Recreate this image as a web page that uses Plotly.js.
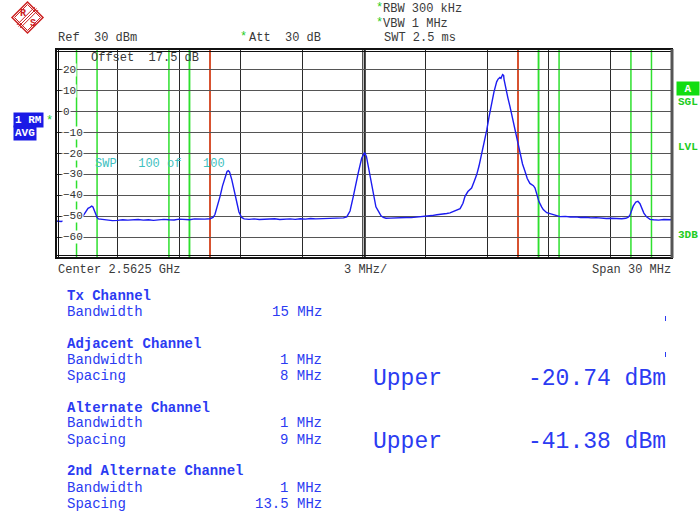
<!DOCTYPE html>
<html>
<head>
<meta charset="utf-8">
<script src="https://cdn.plot.ly/plotly-3.0.1.min.js"></script>
<style>
html,body{margin:0;padding:0;background:#fff;}
#chart{width:700px;height:516px;}
text{white-space:pre;}
</style>
</head>
<body>
<div id="chart"></div>
<script>
// ---------- data ----------
const centerFreqGHz = 2.5625;
const spanMHz = 30;
const refLevelDbm = 30;
const yTickValues = [20, 10, 0, -10, -20, -30, -40, -50, -60];

// frequency offset from center (MHz) and measured level (dBm)
const freqOffsetMHz = [
-15.0,-14.75,-14.5,-14.25,-14.0,-13.85,-13.76,-13.6,-13.5,-13.44,-13.35,-13.26,-13.2,-13.1,-13.0,-12.94,
-12.75,-12.5,-12.25,-12.0,-11.75,-11.5,-11.25,-11.0,-10.75,-10.5,-10.25,-10.0,-9.75,-9.5,-9.25,-9.0,
-8.75,-8.5,-8.25,-8.0,-7.75,-7.5,-7.35,-7.26,-7.13,-7.01,-6.89,-6.77,-6.67,-6.61,-6.55,-6.44,-6.33,
-6.2,-6.09,-5.96,-5.84,-5.6,-5.35,-5.1,-4.85,-4.6,-4.35,-4.1,-3.85,-3.6,-3.35,-3.1,-2.85,-2.6,-2.35,
-2.1,-1.85,-1.6,-1.35,-1.15,-1.0,-0.84,-0.68,-0.52,-0.39,-0.28,-0.11,-0.02,0.03,0.12,0.21,0.34,0.45,
0.58,0.7,0.83,0.94,1.07,1.3,1.55,1.8,2.05,2.3,2.55,2.8,3.05,3.3,3.55,3.8,4.03,4.19,4.33,4.51,4.68,
4.82,4.92,5.06,5.24,5.36,5.49,5.6,5.73,5.85,5.98,6.09,6.22,6.33,6.46,6.53,6.62,6.67,6.75,6.8,6.82,
6.89,7.01,7.11,7.23,7.35,7.48,7.6,7.72,7.84,7.95,8.08,8.25,8.33,8.43,8.52,8.65,8.73,8.9,9.06,9.3,
9.55,9.8,10.05,10.3,10.55,10.8,11.05,11.3,11.55,11.8,12.05,12.3,12.55,12.75,12.87,12.95,13.11,13.24,
13.34,13.44,13.52,13.63,13.76,13.93,14.1,14.35,14.6,14.85,15.0
];
const levelDbm = [
-52.3,-52.5,-52.0,-52.4,-51.9,-52.0,-51.0,-48.6,-47.0,-46.2,-45.8,-45.2,-45.6,-48.4,-50.6,-51.3,
-51.6,-51.8,-52.1,-52.0,-51.7,-51.9,-51.8,-51.6,-51.9,-51.7,-52.0,-51.8,-51.5,-51.7,-51.8,-51.4,
-51.6,-51.7,-51.3,-51.5,-51.4,-51.2,-50.6,-49.2,-45.0,-40.5,-35.5,-31.0,-28.6,-28.2,-28.8,-32.5,-37.5,
-43.6,-48.0,-50.6,-51.3,-51.5,-51.3,-51.6,-51.4,-51.5,-51.2,-51.6,-51.4,-51.3,-51.5,-51.2,-51.4,-51.1,-51.3,
-51.2,-51.4,-51.0,-51.2,-51.0,-50.8,-50.3,-47.5,-40.5,-34.0,-29.3,-22.2,-19.8,-19.5,-21.5,-26.2,-33.5,-40.5,
-45.5,-47.6,-49.8,-50.6,-51.0,-50.9,-50.7,-50.8,-50.6,-50.7,-50.5,-50.3,-50.0,-49.7,-49.3,-49.1,-48.7,-48.4,-47.9,-47.3,-46.4,
-43.8,-40.5,-38.2,-36.5,-33.5,-30.1,-26.0,-20.6,-15.5,-8.7,-2.5,4.8,9.5,14.3,15.6,16.4,16.0,17.8,17.4,15.5,
11.5,6.5,2.4,-3.0,-8.7,-15.0,-20.6,-25.0,-28.5,-32.0,-34.3,-35.4,-36.5,-39.5,-43.0,-45.5,-46.8,-48.3,-48.8,-49.6,
-50.2,-50.1,-50.4,-50.3,-50.6,-50.5,-50.8,-50.7,-51.0,-51.1,-51.0,-51.2,-51.2,-51.0,-50.5,-49.5,-45.2,-43.2,
-42.9,-44.0,-46.0,-48.5,-50.3,-51.5,-51.7,-51.9,-51.6,-51.8,-51.7
];

// channel settings
const channelNames = ['Tx Channel', 'Adjacent Channel', 'Alternate Channel', '2nd Alternate Channel'];
const channelBandwidthMHz = [15, 1, 1, 1];
const channelSpacingMHz = [0, 8, 9, 13.5];
const resultLabels = ['Upper', 'Upper'];
const resultValuesDbm = [-20.74, -41.38];

// ---------- helpers ----------
const L = 56, T = 49, W = 616, H = 209;
const px = x => (x - L) / W;
const py = y => (T + H - y) / H;
const MONO = 'Liberation Mono, Courier New, monospace';
const NB = s => s.replace(/ /g, '\u00a0');
function ann(text, x, y, o) {
  o = o || {};
  const a = {
    xref: 'paper', yref: 'paper', x: px(x), y: py(y), text: NB(text), showarrow: false,
    xanchor: o.anchor || 'left', yanchor: 'middle', borderpad: o.pad === undefined ? 0 : o.pad,
    font: {family: MONO, size: o.size || 12, color: o.color || '#3a3a3a', weight: o.bold ? 'bold' : 'normal'}
  };
  if (o.bg) a.bgcolor = o.bg;
  if (o.width) a.width = o.width;
  if (o.height) a.height = o.height;
  if (o.align) a.align = o.align;
  return a;
}

const annotations = [];
const shapes = [];

// header texts
annotations.push(ann('Ref  ' + refLevelDbm + ' dBm', 57, 37.5));
annotations.push(ann('*', 239, 37, {color: '#22cc22'}));
annotations.push(ann('Att  30 dB', 248, 37.5));
annotations.push(ann('*', 375, 8, {color: '#22cc22'}));
annotations.push(ann('RBW 300 kHz', 382, 8.5));
annotations.push(ann('*', 375, 23, {color: '#22cc22'}));
annotations.push(ann('VBW 1 MHz', 382, 23.5));
annotations.push(ann('SWT 2.5 ms', 383, 37.5));
annotations.push(ann('Offset  17.5 dB', 90, 58));
annotations.push(ann('SWP   100 of   100', 94, 164, {color: '#3fbfbf'}));

// left / right indicators
annotations.push(ann('1 RM', 13, 120.5, {color: '#ffffff', bg: '#1a1ae6', bold: true, size: 11, pad: 1}));
annotations.push(ann('AVG', 13, 132.5, {color: '#ffffff', bg: '#1a1ae6', bold: true, size: 11, pad: 1}));
annotations.push(ann('*', 45, 121, {color: '#22cc22'}));
annotations.push(ann('A', 688, 88, {anchor: 'center', color: '#ffffff', bg: '#11dd11', bold: true, size: 11, width: 22, height: 13, align: 'center'}));
annotations.push(ann('SGL', 677, 102, {color: '#22cc22', bold: true, size: 11}));
annotations.push(ann('LVL', 677, 147, {color: '#22cc22', bold: true, size: 11}));
annotations.push(ann('3DB', 677, 235, {color: '#22cc22', bold: true, size: 11}));

// bottom axis texts
annotations.push(ann('Center ' + centerFreqGHz + ' GHz', 57, 270));
annotations.push(ann((spanMHz / 10) + ' MHz/', 365, 270, {anchor: 'center'}));
annotations.push(ann('Span ' + spanMHz + ' MHz', 672, 270, {anchor: 'right'}));

// y tick labels (inside the frame, on white)
yTickValues.forEach(v => {
  annotations.push({xref: 'paper', yref: 'y', x: px(62), y: v, text: String(v).replace('-', '\u2212'),
    showarrow: false, xanchor: 'left', yanchor: 'middle', bgcolor: '#ffffff', borderpad: 0,
    font: {family: MONO, size: 11, color: '#333'}});
});

// channel table
const BLUE = '#2b3bf2';
const rowY = [[296, 312], [343.5, 359.5, 375.5], [407.5, 423.5, 439.5], [471.5, 487.5, 503.5]];
channelNames.forEach((name, i) => {
  const r = rowY[i];
  annotations.push(ann(name, 66, r[0], {color: BLUE, bold: true, size: 14}));
  annotations.push(ann('Bandwidth', 66, r[1], {color: BLUE, size: 14}));
  annotations.push(ann(channelBandwidthMHz[i] + ' MHz', 323, r[1], {color: BLUE, size: 14, anchor: 'right'}));
  if (i > 0) {
    annotations.push(ann('Spacing', 66, r[2], {color: BLUE, size: 14}));
    annotations.push(ann(channelSpacingMHz[i] + ' MHz', 323, r[2], {color: BLUE, size: 14, anchor: 'right'}));
  }
});
const resY = [378.5, 442];
resultLabels.forEach((lab, i) => {
  annotations.push(ann(lab, 372, resY[i], {color: BLUE, size: 23}));
  annotations.push(ann(resultValuesDbm[i].toFixed(2) + ' dBm', 667, resY[i], {color: BLUE, size: 23, anchor: 'right'}));
});
[[316, 321], [352, 357]].forEach(s => {
  shapes.push({type: 'line', xref: 'paper', yref: 'paper', x0: px(665.5), x1: px(665.5), y0: py(s[0]), y1: py(s[1]), line: {color: BLUE, width: 1}});
});

// channel limit lines (green for adjacent/alternate, red for Tx)
const chanLine = (x, color) => shapes.push({type: 'line', xref: 'x', yref: 'paper', x0: x, x1: x, y0: 0, y1: 1, layer: 'below', line: {color: color, width: 1.5}});
for (let i = 1; i < channelNames.length; i++) {
  [-1, 1].forEach(sgn => {
    chanLine(sgn * (channelSpacingMHz[i] - channelBandwidthMHz[i] / 2), '#2ee02e');
    chanLine(sgn * (channelSpacingMHz[i] + channelBandwidthMHz[i] / 2), '#2ee02e');
  });
}
[-1, 1].forEach(sgn => chanLine(sgn * channelBandwidthMHz[0] / 2, '#ff2020'));

// center double line
[-0.06, 0.06].forEach(x => shapes.push({type: 'line', xref: 'x', yref: 'paper', x0: x, x1: x, y0: 0, y1: 1, layer: 'below', line: {color: '#111', width: 1}}));

// frame
shapes.push({type: 'rect', xref: 'paper', yref: 'paper', x0: 0, x1: 1, y0: 0, y1: 1, line: {color: '#111', width: 2}});
shapes.push({type: 'line', xref: 'paper', yref: 'paper', x0: 0, x1: 1, y0: py(51.5), y1: py(51.5), line: {color: '#111', width: 1}});
shapes.push({type: 'line', xref: 'paper', yref: 'paper', x0: 0, x1: 1, y0: py(255.5), y1: py(255.5), line: {color: '#111', width: 1}});
shapes.push({type: 'line', xref: 'paper', yref: 'paper', x0: px(58.5), x1: px(58.5), y0: 0, y1: 1, line: {color: '#111', width: 1}});
shapes.push({type: 'line', xref: 'paper', yref: 'paper', x0: 1, x1: 1, y0: 0, y1: 1, line: {color: '#555', width: 3}});

// R&S logo
const LOGO = '#cc2222';
const pth = pts => 'M ' + pts.map(p => px(p[0]) + ',' + py(p[1])).join(' L ') + ' Z';
shapes.push({type: 'path', xref: 'paper', yref: 'paper', path: pth([[27.5, 2], [43, 17.5], [27.5, 33], [12, 17.5]]), line: {color: LOGO, width: 1.5}});
shapes.push({type: 'path', xref: 'paper', yref: 'paper', path: pth([[27.5, 4.5], [40.5, 17.5], [27.5, 30.5], [14.5, 17.5]]), line: {color: LOGO, width: 1}});
[-1.6, 0, 1.6].forEach(d => {
  shapes.push({type: 'line', xref: 'paper', yref: 'paper', x0: px(18.5 + d), y0: py(26.5 + d), x1: px(36.5 + d), y1: py(8.5 + d), line: {color: LOGO, width: 1}});
});
annotations.push(ann('R', 22.5, 13, {anchor: 'center', color: LOGO, bold: true, size: 10}));
annotations.push(ann('S', 32.5, 23, {anchor: 'center', color: LOGO, bold: true, size: 10}));

const trace = {
  type: 'scatter', mode: 'lines', x: freqOffsetMHz, y: levelDbm,
  line: {color: '#1c1cf0', width: 1.4}, hoverinfo: 'skip'
};

const layout = {
  width: 700, height: 516,
  margin: {l: L, r: 700 - L - W, t: T, b: 516 - T - H, pad: 0},
  paper_bgcolor: '#ffffff', plot_bgcolor: '#ffffff',
  showlegend: false,
  xaxis: {range: [-spanMHz / 2, spanMHz / 2], tick0: -15, dtick: 3, showgrid: true, gridcolor: '#2a2a2a', gridwidth: 1,
          zeroline: false, showticklabels: false, showline: false, ticks: '', fixedrange: true},
  yaxis: {range: [-70, refLevelDbm], tick0: 0, dtick: 10, showgrid: true, gridcolor: '#555', gridwidth: 1,
          zeroline: false, showticklabels: false, showline: false, ticks: 'inside', ticklen: 5, tickcolor: '#222', fixedrange: true},
  shapes: shapes,
  annotations: annotations
};

Plotly.newPlot('chart', [trace], layout, {displayModeBar: false, staticPlot: true});
</script>
</body>
</html>
